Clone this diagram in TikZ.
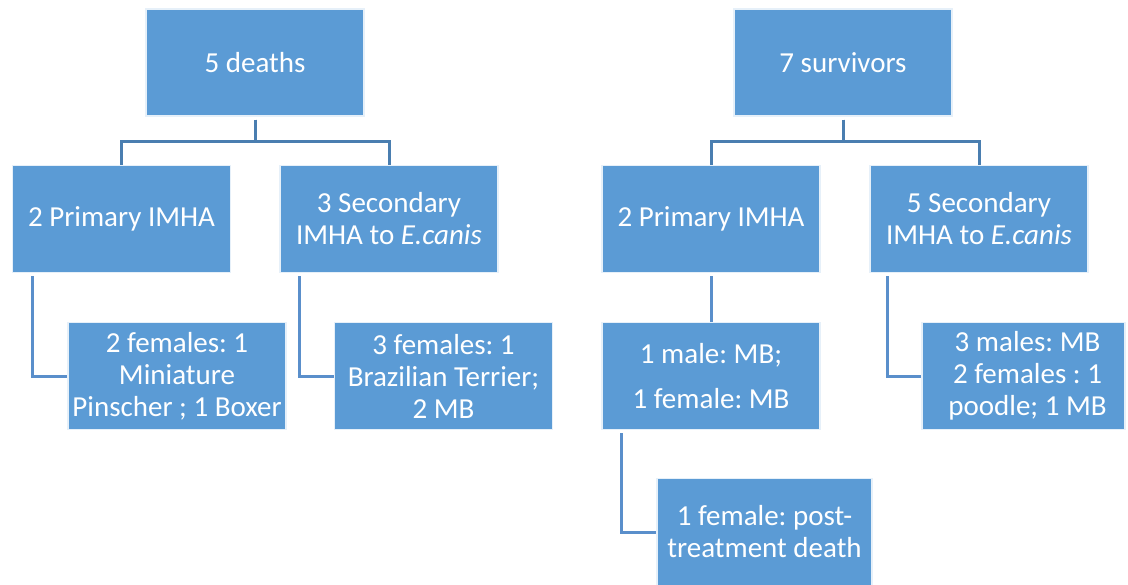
\documentclass[tikz,border=0pt]{standalone}
\usepackage{fontspec}
\setmainfont{Carlito}
\frenchspacing
\usetikzlibrary{calc}
\definecolor{boxblue}{HTML}{5B9BD5}
\definecolor{topline}{HTML}{4A7EB0}
\definecolor{lowline}{HTML}{5A8FCB}
\tikzset{
  box/.style={fill=boxblue, draw=white!85!boxblue, line width=0.6pt, text=white,
    minimum width=109pt, minimum height=53.5pt, inner sep=0pt, align=center,
    font=\fontsize{14.5}{16}\selectfont},
  topconn/.style={draw=topline, line width=1.5pt},
  lowconn/.style={draw=lowline, line width=1.5pt},
}
\begin{document}
\begin{tikzpicture}[x=0.5pt,y=-0.5pt]
\useasboundingbox (0,0) rectangle (1128,584);
% level 1
\node[box] (A) at (255,62.5) {5 deaths};
\node[box] (B) at (843,62.5) {7 survivors};
% level 2
\node[box] (C) at (121.5,219) {2 Primary IMHA};
\node[box] (D) at (389,219) {3 Secondary\\IMHA to \textit{E.canis}};
\node[box] (E) at (711,219) {2 Primary IMHA};
\node[box] (F) at (979,219) {5 Secondary\\IMHA to \textit{E.canis}};
% level 3
\node[box] (G) at (177,376) {2 females: 1\\Miniature\\Pinscher ; 1 Boxer};
\node[box] (H) at (443.5,376) {3 females: 1\\Brazilian Terrier;\\2 MB};
\node[box] (I) at (711,376) {1 male: MB;\\[6.5pt]1 female: MB};
\node[box, minimum width=101.5pt] (J) at (1023.5,376) {\hspace*{4pt}3 males: MB\\\hspace*{4pt}2 females : 1\\\hspace*{4pt}poodle; 1 MB};
% level 4
\node[box, minimum width=107.5pt] (K) at (764.5,532) {1 female: post-\\treatment death};
% connectors top
\draw[topconn] ($(A.south)+(0,3)$) -- ++(0,22) -| (C.north);
\draw[topconn] ($(A.south)+(0,3)$) -- ++(0,22) -| (D.north);
\draw[topconn] ($(B.south)+(0,3)$) -- ++(0,22) -| (E.north);
\draw[topconn] ($(B.south)+(0,3)$) -- ++(0,22) -| (F.north);
% connectors lower
\draw[lowconn] ($(C.south west)+(21,3)$) |- (G.west);
\draw[lowconn] ($(D.south west)+(20,3)$) |- (H.west);
\draw[lowconn] ($(E.south)+(0,3)$) -- (I.north);
\draw[lowconn] ($(F.south west)+(18,3)$) |- (J.west);
\draw[lowconn] ($(I.south west)+(20,3)$) |- (K.west);
\end{tikzpicture}
\end{document}
